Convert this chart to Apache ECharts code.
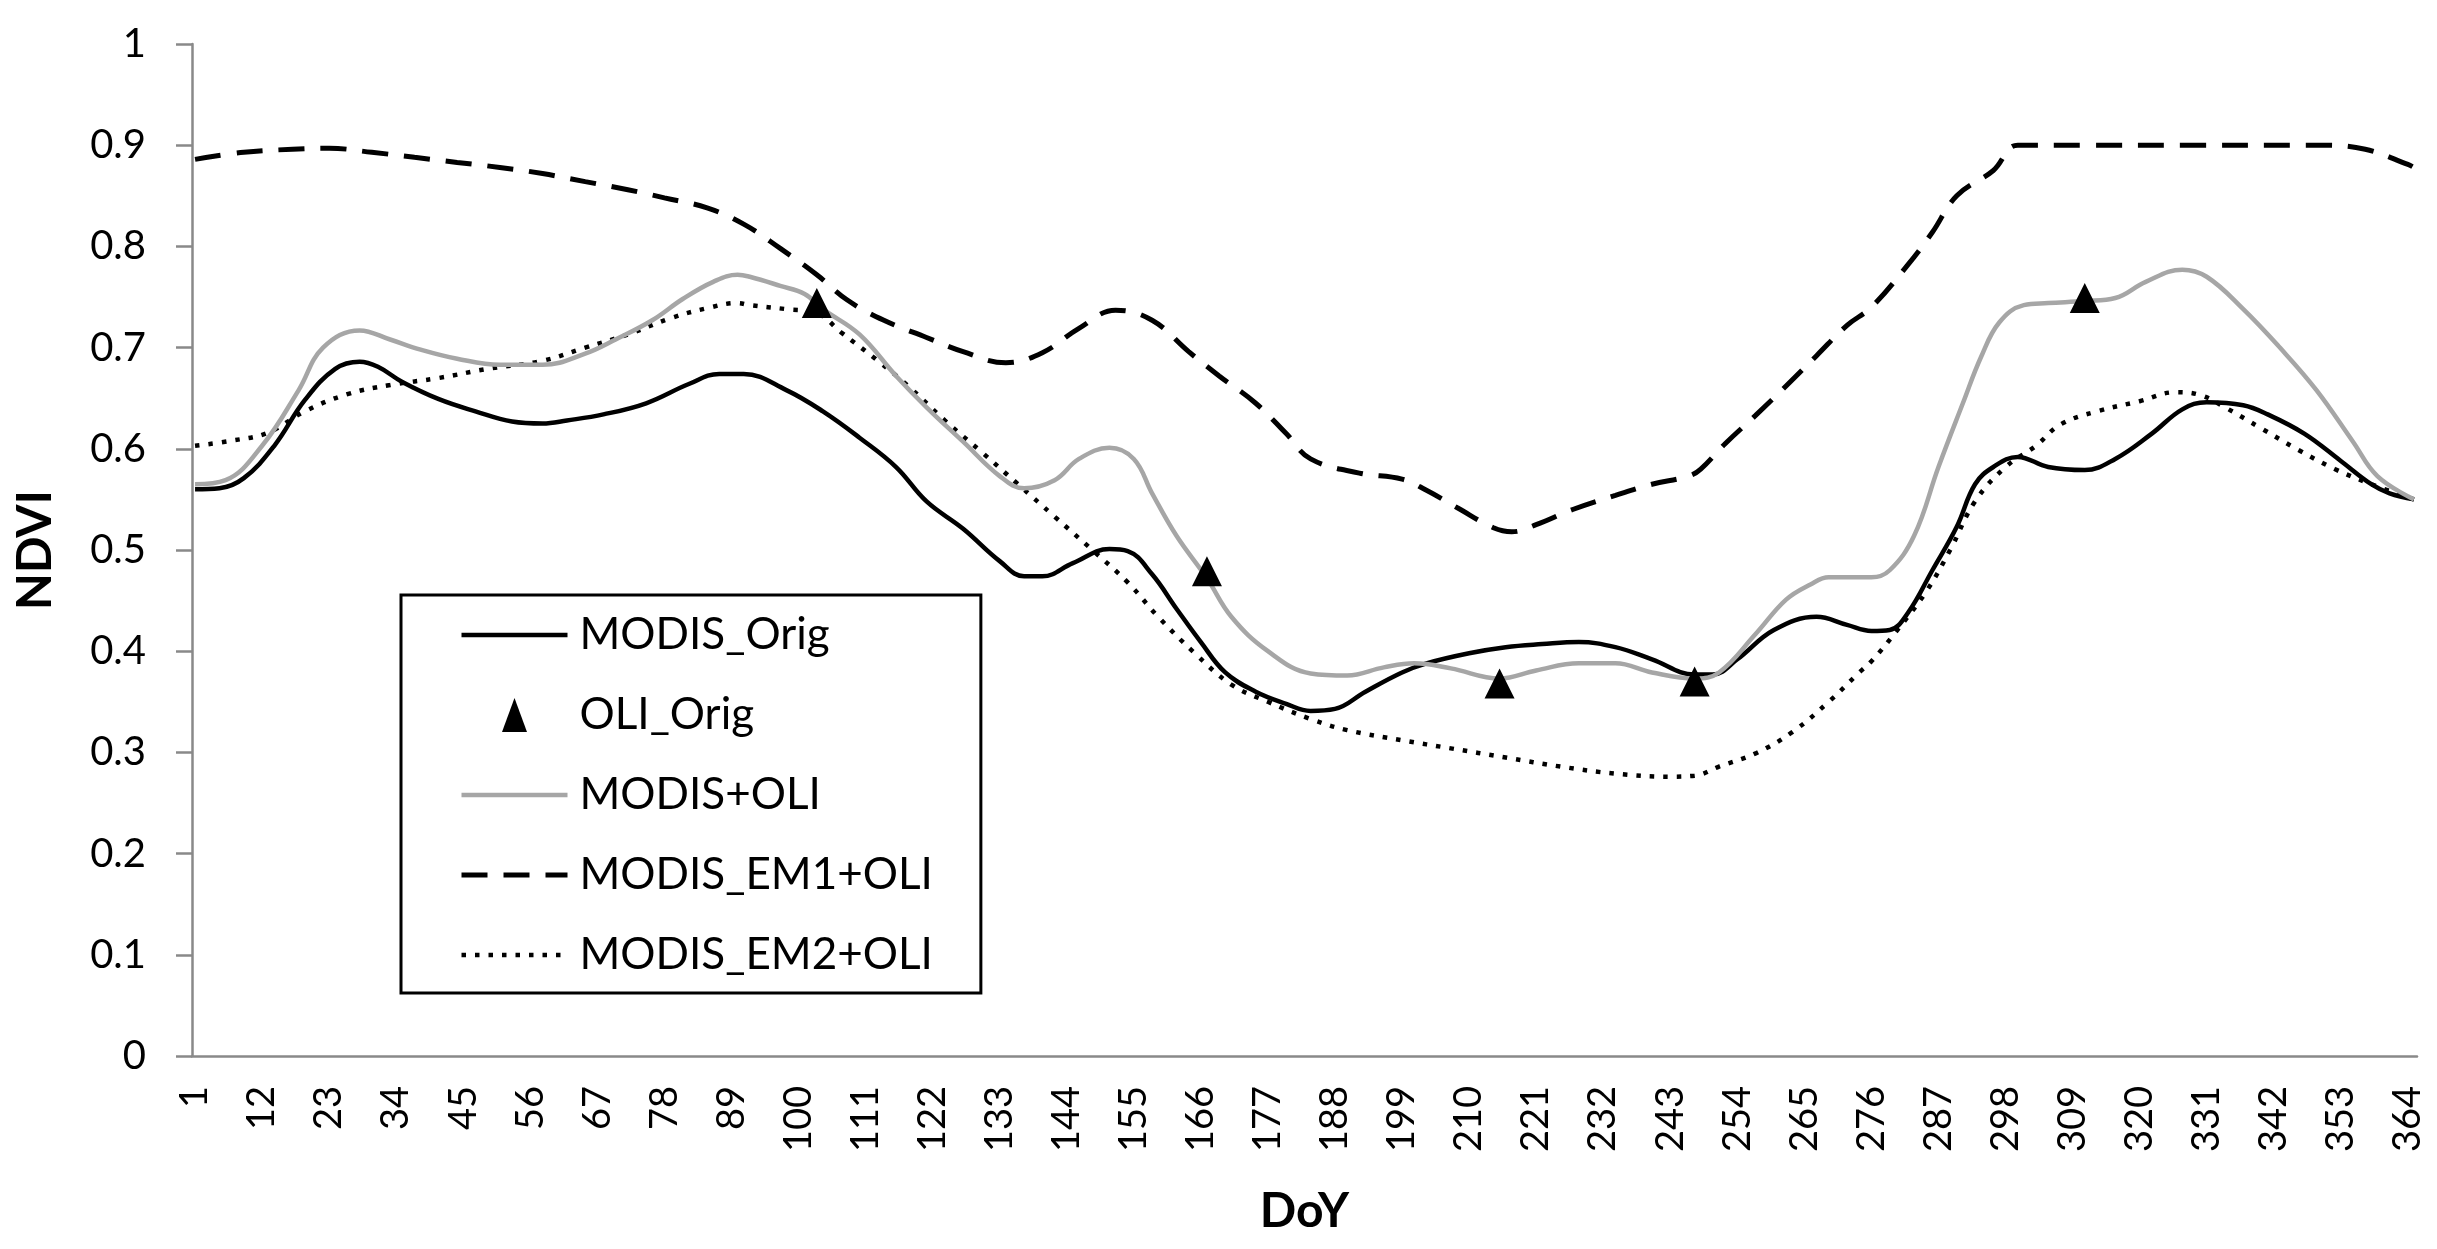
<!DOCTYPE html>
<html>
<head>
<meta charset="utf-8">
<script src="https://cdn.jsdelivr.net/npm/echarts@6/dist/echarts.min.js"></script>
<style>html,body{margin:0;padding:0;background:#fff}#c{width:2437px;height:1249px}</style>
</head>
<body>
<div id="c"></div>
<script>
// Day-of-year categories 1..365
const categories = [];
for (let d = 1; d <= 365; d++) categories.push(String(d));

// MODIS_Orig
const origDays = [1,5,9,14,19,24,28,31,35,41,47,53,58,62,68,75,82,87,91,98,104,110,116,121,127,133,137,140,145,151,154,158,162,166,170,175,180,184,188,193,199,203,210,216,222,228,234,240,247,250,254,260,267,272,276,279,282,286,290,293,296,300,305,311,316,322,327,331,337,341,347,353,358,361,365];
const origVals = [0.560,0.561,0.571,0.603,0.648,0.679,0.686,0.681,0.666,0.649,0.637,0.627,0.625,0.628,0.634,0.645,0.664,0.674,0.674,0.658,0.637,0.611,0.582,0.548,0.521,0.489,0.474,0.474,0.487,0.501,0.499,0.476,0.442,0.409,0.379,0.360,0.348,0.341,0.343,0.360,0.379,0.388,0.398,0.404,0.407,0.409,0.404,0.392,0.377,0.377,0.392,0.421,0.434,0.426,0.420,0.421,0.438,0.480,0.523,0.565,0.582,0.592,0.582,0.579,0.590,0.615,0.639,0.646,0.643,0.634,0.615,0.588,0.565,0.556,0.550];

// OLI_Orig observations
const oliDays = [103,167,215,247,311];
const oliVals = [0.744,0.479,0.368,0.370,0.749];

// MODIS+OLI
const fusDays = [1,6,12,18,22,28,33,38,44,51,58,65,70,76,81,86,90,92,97,101,104,110,116,121,127,133,137,142,146,151,155,158,162,167,171,177,184,190,196,201,207,215,221,228,234,240,247,251,257,262,266,269,276,279,283,287,291,294,297,301,305,311,316,321,327,331,337,343,349,355,359,365];
const fusVals = [0.565,0.569,0.603,0.658,0.700,0.717,0.708,0.698,0.689,0.683,0.683,0.694,0.708,0.727,0.748,0.765,0.772,0.770,0.761,0.753,0.738,0.713,0.672,0.641,0.607,0.573,0.561,0.569,0.590,0.601,0.590,0.556,0.514,0.472,0.434,0.400,0.378,0.376,0.384,0.388,0.383,0.373,0.381,0.388,0.388,0.379,0.373,0.379,0.417,0.451,0.466,0.473,0.473,0.480,0.514,0.582,0.645,0.691,0.725,0.742,0.744,0.746,0.749,0.765,0.777,0.770,0.738,0.700,0.658,0.607,0.573,0.550];

// MODIS_EM1+OLI
const em1Days = [1,9,17,23,30,37,44,51,58,65,72,78,85,91,97,103,108,114,121,127,134,140,146,152,158,164,169,175,180,184,192,199,203,208,214,217,221,227,234,240,246,248,252,257,262,267,272,276,282,286,290,296,300,311,329,350,357,364,365];
const em1Vals = [0.886,0.893,0.896,0.897,0.893,0.888,0.883,0.878,0.872,0.864,0.856,0.848,0.838,0.822,0.798,0.772,0.747,0.727,0.710,0.696,0.685,0.695,0.719,0.737,0.727,0.696,0.672,0.645,0.615,0.590,0.576,0.570,0.559,0.542,0.522,0.518,0.525,0.540,0.554,0.565,0.573,0.580,0.605,0.633,0.662,0.692,0.722,0.740,0.782,0.814,0.850,0.875,0.900,0.900,0.900,0.900,0.896,0.881,0.878];

// MODIS_EM2+OLI
const em2Days = [1,7,13,19,26,33,41,49,58,65,72,79,85,90,92,98,103,107,113,118,124,130,136,142,148,154,159,165,171,177,184,190,199,207,216,225,234,243,247,251,257,263,269,274,276,280,285,289,293,298,303,307,313,320,326,330,334,340,346,352,358,365];
const em2Vals = [0.603,0.608,0.616,0.637,0.654,0.663,0.670,0.679,0.687,0.700,0.713,0.729,0.739,0.744,0.742,0.738,0.734,0.715,0.687,0.662,0.628,0.597,0.565,0.533,0.501,0.468,0.434,0.398,0.367,0.350,0.333,0.322,0.312,0.304,0.295,0.286,0.279,0.276,0.277,0.286,0.299,0.320,0.350,0.379,0.390,0.419,0.459,0.501,0.548,0.582,0.603,0.624,0.637,0.647,0.656,0.653,0.641,0.620,0.599,0.580,0.565,0.550];

function pairs(days, vals) { return days.map((d, i) => [d - 1, vals[i]]); }

const FONT = 'Lato, "Open Sans", sans-serif';
const AXIS_GRAY = '#898989';
const HIDE_SYMBOL = {color: 'rgba(0,0,0,0)', borderWidth: 0, opacity: 0};

const chart = echarts.init(document.getElementById('c'), null, {renderer: 'canvas'});
chart.setOption({
  animation: false,
  backgroundColor: '#ffffff',
  grid: {left: 192, right: 20, top: 44, bottom: 193, containLabel: false},
  legend: {
    orient: 'vertical',
    left: 401, top: 595,
    padding: [18, 48, 16, 58],
    itemWidth: 106, itemHeight: 34, itemGap: 36,
    borderColor: '#000', borderWidth: 3,
    selectedMode: false,
    lineStyle: {width: 'inherit', type: 'inherit'},
    textStyle: {fontFamily: FONT, fontSize: 44, color: '#000', padding: [0, 0, 0, 7]},
    data: [
      {name: 'MODIS_Orig', itemStyle: HIDE_SYMBOL},
      {name: 'OLI_Orig', icon: 'path://M12.5,0L25,34L0,34Z', itemStyle: {color: '#000', opacity: 1}},
      {name: 'MODIS+OLI', itemStyle: HIDE_SYMBOL},
      {name: 'MODIS_EM1+OLI', itemStyle: HIDE_SYMBOL},
      {name: 'MODIS_EM2+OLI', itemStyle: HIDE_SYMBOL}
    ]
  },
  xAxis: {
    type: 'category',
    data: categories,
    boundaryGap: true,
    name: 'DoY',
    nameLocation: 'middle',
    nameGap: 132,
    nameTextStyle: {fontFamily: FONT, fontSize: 48, fontWeight: 'bold', color: '#000'},
    axisLine: {show: true, lineStyle: {color: AXIS_GRAY, width: 2.5}},
    axisTick: {show: false},
    axisLabel: {interval: 10, rotate: 90, margin: 30, fontFamily: FONT, fontSize: 38, color: '#000'},
    splitLine: {show: false}
  },
  yAxis: {
    type: 'value',
    min: 0, max: 1, interval: 0.1,
    name: 'NDVI',
    nameLocation: 'middle',
    nameGap: 132,
    nameTextStyle: {fontFamily: FONT, fontSize: 48, fontWeight: 'bold', color: '#000'},
    axisLine: {show: true, lineStyle: {color: AXIS_GRAY, width: 2.5}},
    axisTick: {show: true, inside: false, length: 16, lineStyle: {color: AXIS_GRAY, width: 2.5}},
    axisLabel: {margin: 46, fontFamily: FONT, fontSize: 40, color: '#000'},
    splitLine: {show: false}
  },
  series: [
    {name: 'MODIS_Orig', type: 'line', data: pairs(origDays, origVals), smooth: 0.4, symbol: 'none',
     lineStyle: {color: '#000', width: 4.5}, itemStyle: {color: '#000'}, z: 3},
    {name: 'OLI_Orig', type: 'scatter', data: pairs(oliDays, oliVals), symbol: 'triangle', symbolSize: 30,
     itemStyle: {color: '#000', opacity: 1}, z: 5},
    {name: 'MODIS+OLI', type: 'line', data: pairs(fusDays, fusVals), smooth: 0.4, symbol: 'none',
     lineStyle: {color: '#a6a6a6', width: 4.5}, itemStyle: {color: '#a6a6a6'}, z: 4},
    {name: 'MODIS_EM1+OLI', type: 'line', data: pairs(em1Days, em1Vals), smooth: 0.4, symbol: 'none',
     lineStyle: {color: '#000', width: 5, type: [26, 16]}, itemStyle: {color: '#000'}, z: 2},
    {name: 'MODIS_EM2+OLI', type: 'line', data: pairs(em2Days, em2Vals), smooth: 0.4, symbol: 'none',
     lineStyle: {color: '#000', width: 4.5, type: [4.5, 9]}, itemStyle: {color: '#000'}, z: 2}
  ]
});
</script>
</body>
</html>
